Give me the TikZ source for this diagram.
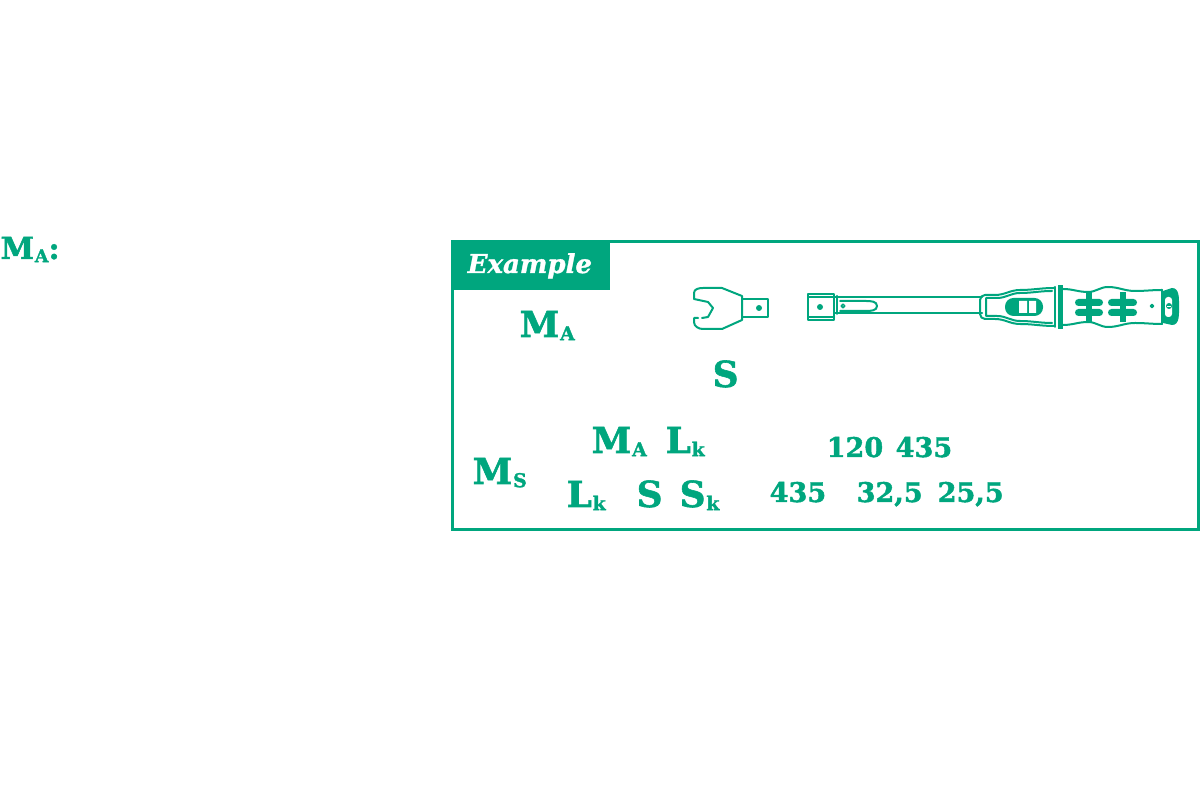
\documentclass[tikz,border=0pt]{standalone}
\usepackage{fontspec}
\setmainfont{DejaVu Serif}[BoldFeatures={FakeBold=1.6}, BoldItalicFeatures={FakeBold=1.2}]
\usetikzlibrary{positioning}
\definecolor{wgreen}{RGB}{0,166,126}
\newcommand\symb[3][5.4]{#2\kern0.2pt\raisebox{-0.9pt}{\fontsize{#1}{#1}\selectfont #3}}

\begin{document}
\begin{tikzpicture}[x=0.1mm,y=-0.1mm]
    \tikzset{sym/.style={
        anchor=base west, inner sep=0pt, text=wgreen, font=\fontsize{10.2}{12}\selectfont\bfseries
      },
      num/.style={sym, font=\fontsize{7.7}{10}\selectfont\bfseries},
      tool/.style={draw=wgreen, line width=0.2mm, line join=round, line cap=round},
      pad/.style={fill=wgreen}
    }
    \useasboundingbox (0,0) rectangle (1200,800);

    \node[sym, font=\fontsize{8.6}{10}\selectfont\bfseries] (MAhead) at (0,259) {\symb[5]{M}{A}:};

    % frame and tab
    \draw[wgreen, line width=0.3mm] (452,242) rectangle (1198,530);
    \fill[wgreen] (452,242) rectangle (610,290);
    \node[sym, text=white, font=\fontsize{7.4}{9}\selectfont\bfseries\itshape] (example) at (467,273) {Example};

    \node[sym] (MAex) at (519,337) {\symb{M}{A}};
    \node[sym] (Sex) at (712,387) {S};

    % formula
    \node[sym] (MS) at (472,484) {\symb{M}{S}};
    \node[sym] (MAtop) at (591,453) {\symb{M}{A}};
    \node[sym] (Lktop) at (665,453) {\symb{L}{k}};
    \node[sym] (Lkbot) at (566,507) {\symb{L}{k}};
    \node[sym] (Sbot) at (636,507) {S};
    \node[sym] (Skbot) at (679,507) {\symb{S}{k}};

    \node[num] (ntop1) at (826,457) {120};
    \node[num] (ntop2) at (895,457) {435};
    \node[num] (nbot1) at (769,502) {435};
    \node[num] (nbot2) at (856,502) {32,5};
    \node[num] (nbot3) at (937,502) {25,5};

    % open-end head
    \draw[tool] (698,318) -- (694,318) -- (694,322) to[out=-90,in=180] (703,329) -- (722,329)
      -- (742,320) -- (742,296) -- (722,288) -- (703,288) to[out=180,in=90] (694,293)
      -- (694,299) -- (708,302) -- (713,308) -- (708,317) -- (702,318);
    \draw[tool] (742,299) rectangle (768,317);
    \fill[wgreen] (759,308) circle[radius=0.3mm];

    % torque wrench, drive end and shaft
    \draw[tool] (808,294) rectangle (834,320);
    \draw[tool] (808,297) -- (834,297) (808,317) -- (834,317) (837,296) -- (837,314);
    \fill[wgreen] (820,307) circle[radius=0.3mm];
    \draw[tool] (834,297) -- (982,297) (834,313) -- (982,313);
    \draw[tool] (840,301) -- (866,301) to[out=0,in=90] (877,306) to[out=-90,in=0] (866,311) -- (840,311);
    \draw[tool, line width=0.15mm] (843,306) circle[radius=0.18mm];

    % handle front
    \draw[tool] (1054,288) to[out=180,in=0] (1020,290) to[out=180,in=0] (995,295) -- (985,295)
      to[out=180,in=90] (980,300) -- (980,314) to[out=-90,in=180] (985,319) -- (995,319)
      to[out=0,in=180] (1020,324) to[out=0,in=180] (1054,326);
    \draw[tool] (1052,291) to[out=180,in=0] (1020,293) to[out=180,in=0] (997,298) -- (986,298)
      -- (986,316) -- (997,316) to[out=0,in=180] (1020,321) to[out=0,in=180] (1052,323);
    \fill[pad, rounded corners=0.85mm] (1005,298) rectangle (1043,316);
    \fill[white] (1019,301) rectangle (1027,313) (1029,301) rectangle (1036,313);
    \draw[tool] (1055,287) -- (1055,327);
    \fill[pad] (1058,285) rectangle (1063,329);

    % grip
    \draw[tool] (1063,289) to[out=0,in=180] (1088,292) to[out=0,in=180] (1108,287)
      to[out=0,in=180] (1135,291) to[out=0,in=180] (1162,290);
    \draw[tool] (1063,325) to[out=0,in=180] (1088,322) to[out=0,in=180] (1108,327)
      to[out=0,in=180] (1135,323) to[out=0,in=180] (1162,324);
    \foreach \xa/\xb in {1075/1103, 1108/1137} {
      \fill[pad] ({(\xa+\xb)/2-3},292) rectangle ({(\xa+\xb)/2+3},322);
      \fill[pad, rounded corners=0.35mm] (\xa,299) rectangle (\xb,306);
      \fill[pad, rounded corners=0.35mm] (\xa,309) rectangle (\xb,316);
    }
    \draw[tool, line width=0.15mm] (1152,306) circle[radius=0.15mm];

    % end cap
    \draw[tool] (1162,290) -- (1162,324);
    \fill[pad] (1163,291) to[out=0,in=180] (1172,288) to[out=0,in=90] (1179,306)
      to[out=-90,in=0] (1172,325) to[out=180,in=0] (1163,323) -- cycle;
    \fill[white, rounded corners=0.3mm] (1165,297) rectangle (1172,317);
    \fill[pad] (1169,306) circle[radius=0.3mm];
    \fill[white] (1167,306) rectangle (1171,307);
  \end{tikzpicture}
\end{document}
